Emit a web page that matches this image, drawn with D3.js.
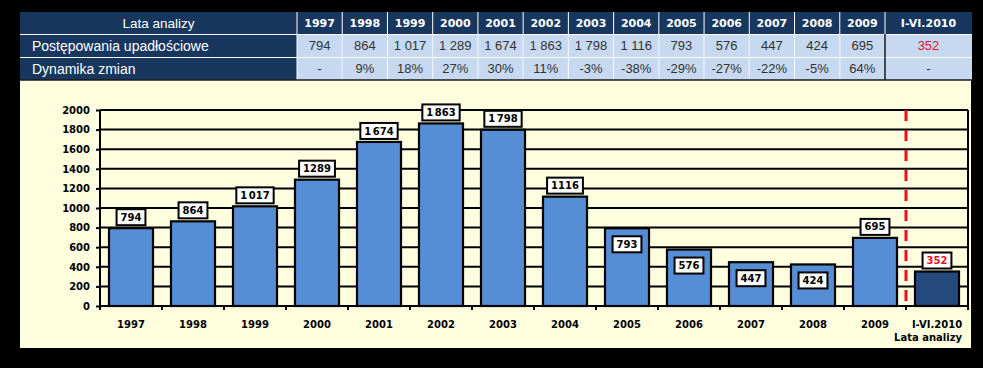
<!DOCTYPE html>
<html><head><meta charset="utf-8">
<script src="https://cdn.jsdelivr.net/npm/d3@7"></script>
<style>html,body{margin:0;padding:0;background:#000;}svg{display:block;}</style>
</head><body>
<script>
// ---- data ----
const categories = ["1997","1998","1999","2000","2001","2002","2003","2004","2005","2006","2007","2008","2009","I-VI.2010"];
const values = [794,864,1017,1289,1674,1863,1798,1116,793,576,447,424,695,352];
const tableValues = ["794","864","1 017","1 289","1 674","1 863","1 798","1 116","793","576","447","424","695","352"];
const dynamics = ["-","9%","18%","27%","30%","11%","-3%","-38%","-29%","-27%","-22%","-5%","64%","-"];
const barLabels = ["794","864","1 017","1289","1 674","1 863","1 798","1116","793","576","447","424","695","352"];
const labelInside = [false,false,false,false,false,false,false,false,true,true,true,true,false,false];
const yTicks = [0,200,400,600,800,1000,1200,1400,1600,1800,2000];
const tableTitle = "Lata analizy";
const rowTitles = ["Postępowania upadłościowe","Dynamika zmian"];
const axisTitle = "Lata analizy";

// ---- layout ----
const W = 983, H = 368;
const NAVY = "#17375e", LIGHT = "#c6d9f1", CREAM = "#ffffe0", BAR = "#558ed5", BAR_DARK = "#244a7c", RED = "#e8101e";
const svg = d3.select("body").append("svg").attr("width", W).attr("height", H);
svg.append("rect").attr("width", W).attr("height", H).attr("fill", "#000");

// cream chart panel
svg.append("rect").attr("x", 20).attr("y", 80).attr("width", 951).attr("height", 268).attr("fill", CREAM);

// ---- table ----
const tX0 = 20, tFirstW = 277, tYearsEnd = 885, tX1 = 972;
const rowY = [12, 34, 57, 80];
const colScale = d3.scaleBand().domain(categories.slice(0, 13)).range([tX0 + tFirstW, tYearsEnd]);
function colX(i){ return i < 13 ? colScale(categories[i]) : tYearsEnd; }
function colW(i){ return i < 13 ? colScale.bandwidth() : tX1 - tYearsEnd; }
const tfont = "'Liberation Sans', Arial, sans-serif";
const T = svg.append("g");
T.append("rect").attr("x", tX0).attr("y", rowY[0]).attr("width", tX1 - tX0).attr("height", rowY[1] - rowY[0]).attr("fill", NAVY);
T.append("rect").attr("x", tX0).attr("y", rowY[1]).attr("width", tFirstW).attr("height", rowY[3] - rowY[1]).attr("fill", NAVY);
categories.forEach((c, i) => {
  [1, 2].forEach(r => {
    T.append("rect").attr("x", colX(i)).attr("y", rowY[r]).attr("width", colW(i)).attr("height", rowY[r+1] - rowY[r])
      .attr("fill", LIGHT);
  });
});
categories.forEach((c, i) => {
  T.append("line").attr("x1", colX(i)).attr("x2", colX(i)).attr("y1", rowY[0]).attr("y2", rowY[i===13?1:3])
    .attr("stroke", "#ffffff").attr("stroke-width", 1);
});
[1,2].forEach(r => {
  T.append("line").attr("x1", tX0).attr("x2", tX1).attr("y1", rowY[r]+0.5).attr("y2", rowY[r]+0.5).attr("stroke", "#ffffff").attr("stroke-width", 1);
});
T.append("line").attr("x1", tYearsEnd).attr("x2", tYearsEnd).attr("y1", rowY[1]).attr("y2", rowY[3]).attr("stroke", "#1a1a1a").attr("stroke-width", 1.5);
T.append("line").attr("x1", tX0).attr("x2", tX1).attr("y1", rowY[3]).attr("y2", rowY[3]).attr("stroke", "#1a1a1a").attr("stroke-width", 1.5);

T.append("text").attr("x", tX0 + tFirstW/2).attr("y", (rowY[0]+rowY[1])/2).attr("dy", "0.36em")
  .attr("text-anchor", "middle").attr("fill", "#fff").attr("font-family", tfont).attr("font-size", 13.5).text(tableTitle);
categories.forEach((c, i) => {
  T.append("text").attr("x", colX(i) + colW(i)/2).attr("y", (rowY[0]+rowY[1])/2).attr("dy", "0.36em")
    .attr("text-anchor", "middle").attr("fill", "#fff").attr("font-family", "'DejaVu Sans', Verdana, sans-serif").attr("font-weight", "bold")
    .attr("font-size", 11).text(c);
});
rowTitles.forEach((t, r) => {
  T.append("text").attr("x", 32).attr("y", (rowY[r+1]+rowY[r+2])/2).attr("dy", "0.36em")
    .attr("fill", "#fff").attr("font-family", tfont).attr("font-size", 14).text(t);
});
[tableValues, dynamics].forEach((arr, r) => {
  arr.forEach((v, i) => {
    T.append("text").attr("x", colX(i) + colW(i)/2).attr("y", (rowY[r+1]+rowY[r+2])/2).attr("dy", "0.36em")
      .attr("text-anchor", "middle").attr("fill", (r === 0 && i === 13) ? RED : "#333")
      .attr("font-family", tfont).attr("font-size", 13).text(v);
  });
});

// ---- chart ----
const x = d3.scaleBand().domain(categories).range([100, 968]).paddingInner(0.29).paddingOuter(0.145);
const xb = d3.scaleBand().domain(categories).range([100, 968]);
const y = d3.scaleLinear().domain([0, 2000]).range([306, 110]);
const cfont = "'DejaVu Sans', Verdana, sans-serif";
const C = svg.append("g");

C.selectAll(".grid").data(yTicks).join("line")
  .attr("x1", 100).attr("x2", 968).attr("y1", d => y(d)).attr("y2", d => y(d))
  .attr("stroke", "#000").attr("stroke-width", 2);
C.append("line").attr("x1", 968).attr("x2", 968).attr("y1", y(2000)).attr("y2", y(0)).attr("stroke", "#000").attr("stroke-width", 2);

C.selectAll(".bar").data(values).join("rect")
  .attr("x", (d, i) => x(categories[i])).attr("width", x.bandwidth())
  .attr("y", d => y(d)).attr("height", d => y(0) - y(d))
  .attr("fill", (d, i) => i === 13 ? BAR_DARK : BAR)
  .attr("stroke", "#000").attr("stroke-width", 2.2);

C.append("line").attr("x1", xb(categories[13])).attr("x2", xb(categories[13]))
  .attr("y1", y(2000)).attr("y2", y(0) + 4)
  .attr("stroke", RED).attr("stroke-width", 3).attr("stroke-dasharray", "11,9");

const yAxis = d3.axisLeft(y).tickValues(yTicks).tickSize(4).tickPadding(6).tickFormat(d3.format("d"));
const ya = C.append("g").attr("transform", "translate(100,0)").call(yAxis);
ya.select(".domain").attr("stroke-width", 2).attr("d", `M0,${y(2000)}V${y(0)}`);
ya.selectAll(".tick line").attr("stroke-width", 2);
ya.selectAll("text").attr("font-family", cfont).attr("font-weight", "bold").attr("font-size", 10).attr("fill", "#000");

const xa = C.append("g").attr("transform", `translate(0,${y(0)})`);
xa.append("line").attr("x1", 100).attr("x2", 968).attr("y1", 0).attr("y2", 0).attr("stroke", "#000").attr("stroke-width", 2);
const bounds = categories.map(c => xb(c)).concat([968]);
xa.selectAll(".xt").data(bounds).join("line")
  .attr("x1", d => d).attr("x2", d => d).attr("y1", 0).attr("y2", 4).attr("stroke", "#000").attr("stroke-width", 2);
xa.selectAll(".xl").data(categories).join("text")
  .attr("x", d => xb(d) + xb.bandwidth()/2).attr("y", 18).attr("dy", "0.36em")
  .attr("text-anchor", "middle").attr("font-family", cfont).attr("font-weight", "bold").attr("font-size", 10)
  .attr("fill", "#000").text(d => d);
xa.append("text").attr("x", 962).attr("y", 31).attr("dy", "0.36em").attr("text-anchor", "end")
  .attr("font-family", cfont).attr("font-weight", "bold").attr("font-size", 10).attr("fill", "#000").text(axisTitle);

const L = C.append("g");
values.forEach((v, i) => {
  const cx = x(categories[i]) + x.bandwidth()/2;
  const g = L.append("g");
  const t = g.append("text").attr("x", cx).attr("text-anchor", "middle")
    .attr("font-family", cfont).attr("font-weight", "bold").attr("font-size", 10)
    .attr("word-spacing", "-2px")
    .attr("fill", i === 13 ? RED : "#000").text(barLabels[i]);
  const bh = 16;
  const top = labelInside[i] ? y(v) + 8 : y(v) - 3 - bh;
  t.attr("y", top + bh/2).attr("dy", "0.36em");
  const w = t.node().getComputedTextLength() + 8;
  g.insert("rect", "text").attr("x", cx - w/2).attr("y", top).attr("width", w).attr("height", bh)
    .attr("fill", "#fff").attr("stroke", "#000").attr("stroke-width", 2);
});
</script>
</body></html>
